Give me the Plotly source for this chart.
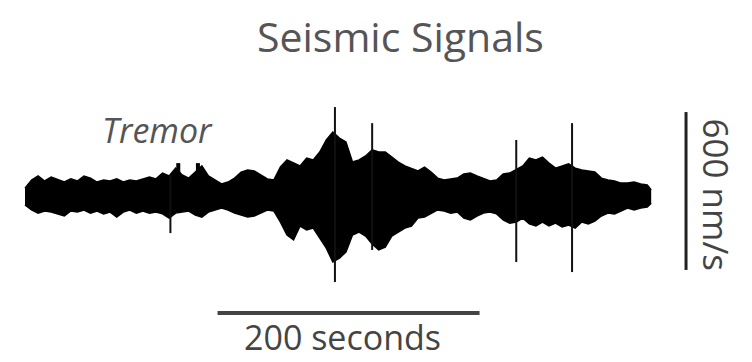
import plotly.graph_objects as go

# ---- data (seconds, nm/s) ----
time_s = [0, 5, 10, 15, 20, 25, 30, 35, 40, 45, 50, 55, 60, 65, 70, 75, 80, 85, 90, 95,
          100, 105, 110, 115, 120, 125, 130, 135, 140, 145, 150, 155, 160, 165, 170, 175,
          180, 185, 190, 195, 200, 205, 210, 215, 220, 225, 230, 235, 240, 245, 250, 255,
          260, 265, 270, 275, 280, 285, 290, 295, 300, 305, 310, 315, 320, 325, 330, 335,
          340, 345, 350, 355, 360, 365, 370, 375, 380, 385, 390, 395, 400, 405, 410, 415,
          420, 425, 430, 435, 440, 445, 450, 455, 460, 465, 470, 475, 478]
upper_env = [30, 61, 76, 57, 72, 61, 53, 65, 57, 76, 68, 53, 61, 57, 65, 53, 61, 57, 65, 72,
             65, 87, 76, 106, 80, 68, 91, 114, 76, 61, 46, 53, 68, 91, 99, 95,
             80, 65, 61, 110, 137, 125, 114, 144, 137, 167, 213, 243, 220, 205, 129, 137,
             152, 175, 167, 167, 148, 129, 114, 106, 95, 110, 91, 68, 61, 65, 68, 84,
             87, 76, 65, 57, 61, 84, 87, 99, 114, 144, 137, 148, 125, 106, 114, 122,
             106, 99, 95, 91, 68, 61, 57, 49, 49, 53, 46, 42, 23]
lower_env = [-34, -53, -65, -57, -61, -68, -76, -57, -61, -53, -65, -57, -68, -61, -80, -61, -53, -65, -57, -65,
             -61, -68, -84, -65, -61, -57, -72, -80, -61, -53, -46, -53, -65, -72, -80, -76,
             -65, -53, -57, -99, -148, -167, -114, -129, -122, -160, -198, -251, -236, -213, -148, -137,
             -152, -182, -205, -194, -152, -137, -122, -114, -84, -80, -68, -53, -57, -65, -61, -84,
             -91, -76, -65, -61, -68, -91, -103, -99, -84, -106, -114, -99, -114, -103, -118, -110,
             -122, -99, -106, -95, -76, -65, -68, -57, -46, -53, -46, -42, -27]

spike_t = [111, 236.6, 265, 375, 417.6]
spike_top = [80, 338, 277, 213, 277]
spike_bot = [-141, -327, -205, -251, -289]

bump_t = [117, 132]
bump_top = [125, 125]
bump_bot = [-40, -40]

time_bar_s = [147, 347]          # 200 seconds
amp_bar_t = 504.6
amp_bar_nms = [319, -281]        # 600 nm/s
time_bar_level = -445

fig = go.Figure()
fig.add_trace(go.Scatter(x=time_s, y=upper_env, mode="lines",
                         line=dict(color="#000000", width=1.5), hoverinfo="skip"))
fig.add_trace(go.Scatter(x=time_s, y=lower_env, mode="lines", fill="tonexty",
                         fillcolor="#000000",
                         line=dict(color="#000000", width=1.5), hoverinfo="skip"))

sx, sy = [], []
for t, a, b in zip(spike_t, spike_top, spike_bot):
    sx += [t, t, None]
    sy += [a, b, None]
fig.add_trace(go.Scatter(x=sx, y=sy, mode="lines",
                         line=dict(color="#111111", width=2), hoverinfo="skip"))

bx, by = [], []
for t, a, b in zip(bump_t, bump_top, bump_bot):
    bx += [t, t, None]
    by += [a, b, None]
fig.add_trace(go.Scatter(x=bx, y=by, mode="lines",
                         line=dict(color="#000000", width=4), hoverinfo="skip"))

# scale bars
fig.add_trace(go.Scatter(x=time_bar_s, y=[time_bar_level, time_bar_level], mode="lines",
                         line=dict(color="#444444", width=4), hoverinfo="skip"))
fig.add_trace(go.Scatter(x=[amp_bar_t, amp_bar_t], y=amp_bar_nms, mode="lines",
                         line=dict(color="#222222", width=3), hoverinfo="skip"))

font = "Open Sans"
common = dict(xref="paper", yref="paper", showarrow=False, xanchor="center", yanchor="middle")
fig.update_layout(
    width=752, height=362,
    margin=dict(l=0, r=0, t=0, b=0),
    paper_bgcolor="white", plot_bgcolor="white",
    showlegend=False,
    xaxis=dict(range=[-19.08, 554.96], visible=False, fixedrange=True),
    yaxis=dict(range=[-630.8, 744.8], visible=False, fixedrange=True),
    annotations=[
        dict(text="Seismic Signals", x=0.532, y=0.900, font=dict(family=font, size=41, color="#555555"), **common),
        dict(text="<i>Tremor</i>", x=0.209, y=0.641, font=dict(family=font, size=34, color="#555555"), **common),
        dict(text="600 nm/s", x=0.953, y=0.461, textangle=90, font=dict(family=font, size=35, color="#444444"), **common),
        dict(text="200 seconds", x=0.456, y=0.068, font=dict(family=font, size=34, color="#444444"), **common),
    ],
)

fig.write_html("out.html")
